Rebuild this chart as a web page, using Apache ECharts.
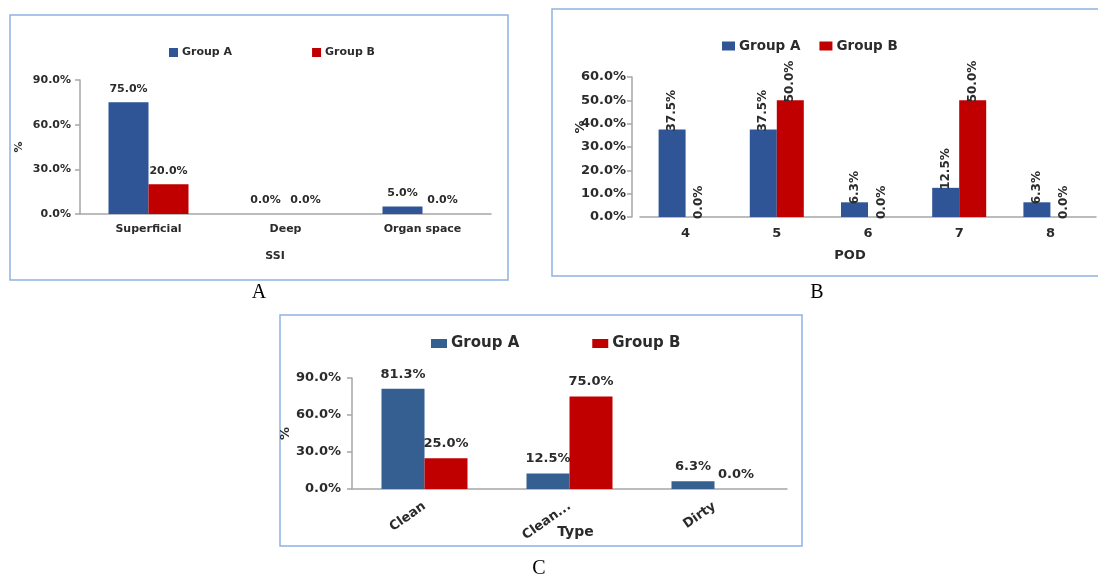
<!DOCTYPE html>
<html>
<head>
<meta charset="utf-8">
<script src="https://cdn.jsdelivr.net/npm/echarts@6/dist/echarts.min.js"></script>
<style>
html,body{margin:0;padding:0;background:#fff;}
#c{width:1098px;height:578px;}
</style>
</head>
<body>
<div id="c"></div>
<script>
// Panel A: SSI
var catsA = ['Superficial', 'Deep', 'Organ space'];
var groupA_A = [75.0, 0.0, 5.0];
var groupB_A = [20.0, 0.0, 0.0];
var ticksA = [0, 30, 60, 90];
// Panel B: POD
var catsB = ['4', '5', '6', '7', '8'];
var groupA_B = [37.5, 37.5, 6.3, 12.5, 6.3];
var groupB_B = [0.0, 50.0, 0.0, 50.0, 0.0];
var ticksB = [0, 10, 20, 30, 40, 50, 60];
// Panel C: Type
var catsC = ['Clean', 'Clean...', 'Dirty'];
var groupA_C = [81.3, 12.5, 6.3];
var groupB_C = [25.0, 75.0, 0.0];
var ticksC = [0, 30, 60, 90];
var seriesNames = ['Group A', 'Group B'];

var FONT = 'DejaVu Sans';
var TXT = '#2b2b2b';
var AXC = '#a6a6a6';
var BLUE_AB = '#2f5597';
var BLUE_C = '#365f91';
var RED = '#c00000';
var BORDER = '#8db3e2';

function pct(v){ return Number(v).toFixed(1) + '%'; }

function yAxisCfg(gi, ticks, fs, margin, extra){
  var o = {
    type:'value', gridIndex:gi, min:ticks[0], max:ticks[ticks.length-1],
    interval:ticks[1]-ticks[0],
    axisLine:{show:true, lineStyle:{color:AXC, width:1.5}},
    axisTick:{show:true, length:5, lineStyle:{color:AXC, width:1.5}},
    splitLine:{show:false},
    axisLabel:{formatter:pct, color:TXT, fontFamily:FONT, fontWeight:'bold', fontSize:fs, margin:margin},
    name:'%', nameLocation:'middle', nameMoveOverlap:false,
    nameTextStyle:{color:TXT, fontFamily:FONT, fontWeight:'bold', fontSize:fs}
  };
  for (var k in extra) o[k] = extra[k];
  return o;
}
function xAxisCfg(gi, cats, fs, margin, extra){
  var o = {
    type:'category', gridIndex:gi, data:cats,
    axisLine:{show:true, lineStyle:{color:AXC, width:1.5}},
    axisTick:{show:false},
    axisLabel:{color:TXT, fontFamily:FONT, fontWeight:'bold', fontSize:fs, margin:margin, interval:0},
    nameLocation:'middle', nameMoveOverlap:false,
    nameTextStyle:{color:TXT, fontFamily:FONT, fontWeight:'bold', fontSize:fs}
  };
  for (var k in extra) o[k] = extra[k];
  return o;
}
function barSeries(name, idx, data, color, bw, label){
  return {
    type:'bar', name:name, xAxisIndex:idx, yAxisIndex:idx, data:data,
    barWidth:bw, barGap:'0%',
    itemStyle:{color:color},
    label:label,
    emphasis:{disabled:true}
  };
}
function topLabel(fs, dist){
  return {show:true, position:'top', distance:dist, formatter:function(p){return pct(p.value);},
          color:TXT, fontFamily:FONT, fontWeight:'bold', fontSize:fs};
}
var rotLabel = {show:true, position:'top', rotate:90, align:'left', verticalAlign:'middle', distance:-2,
  formatter:function(p){return pct(p.value);}, color:TXT, fontFamily:FONT, fontWeight:'bold', fontSize:12};

function legendCfg(left, top, fs, iw, ih, gap, blue){
  return {
    left:left, top:top, itemWidth:iw, itemHeight:ih, itemGap:gap, icon:'rect',
    selectedMode:false,
    textStyle:{color:TXT, fontFamily:FONT, fontWeight:'bold', fontSize:fs, padding:[0,0,0,-1]},
    data:[{name:seriesNames[0], itemStyle:{color:blue}}, {name:seriesNames[1], itemStyle:{color:RED}}]
  };
}

var option = {
  animation:false,
  backgroundColor:'#fff',
  graphic:[
    {type:'rect', shape:{x:10, y:15, width:498, height:265}, style:{fill:'none', stroke:BORDER, lineWidth:1.5}},
    {type:'rect', shape:{x:552, y:9, width:560, height:267}, style:{fill:'none', stroke:BORDER, lineWidth:1.5}},
    {type:'rect', shape:{x:280, y:315, width:522, height:231}, style:{fill:'none', stroke:BORDER, lineWidth:1.5}},
    {type:'text', x:259, y:293, style:{text:'A', font:'20px "Liberation Serif"', fill:'#000', align:'center', verticalAlign:'middle'}},
    {type:'text', x:817, y:293, style:{text:'B', font:'20px "Liberation Serif"', fill:'#000', align:'center', verticalAlign:'middle'}},
    {type:'text', x:539, y:569, style:{text:'C', font:'20px "Liberation Serif"', fill:'#000', align:'center', verticalAlign:'middle'}}
  ],
  legend:[
    legendCfg(164, 42, 11, 9, 9, 80, BLUE_AB),
    legendCfg(717, 34, 13.5, 13, 9, 19, BLUE_AB),
    legendCfg(426, 331, 15, 16, 9, 73, BLUE_C)
  ],
  grid:[
    {left:80, top:80, width:411, height:134},
    {left:640, top:77, width:456, height:140},
    {left:352, top:378, width:435, height:111}
  ],
  xAxis:[
    xAxisCfg(0, catsA, 11, 10, {name:'SSI', nameGap:37, nameTextStyle:{color:TXT, fontFamily:FONT, fontWeight:'bold', fontSize:11, padding:[0,21,0,0]}}),
    xAxisCfg(1, catsB, 13, 10, {name:'POD', nameGap:32, nameTextStyle:{color:TXT, fontFamily:FONT, fontWeight:'bold', fontSize:13, padding:[0,36,0,0]}}),
    xAxisCfg(2, catsC, 13, 16, {name:'Type', nameGap:36, nameTextStyle:{color:TXT, fontFamily:FONT, fontWeight:'bold', fontSize:14, padding:[0,0,0,12]}})
  ],
  yAxis:[
    yAxisCfg(0, ticksA, 11, 9, {nameGap:55}),
    yAxisCfg(1, ticksB, 13, 6, {offset:8, nameGap:45, nameTextStyle:{color:TXT, fontFamily:FONT, fontWeight:'bold', fontSize:13, padding:[0,0,0,40]}}),
    yAxisCfg(2, ticksC, 13, 11, {nameGap:60})
  ],
  series:[
    barSeries(seriesNames[0], 0, groupA_A, BLUE_AB, 40, topLabel(11, 8)),
    barSeries(seriesNames[1], 0, groupB_A, RED, 40, topLabel(11, 8)),
    barSeries(seriesNames[0], 1, groupA_B, BLUE_AB, 27, rotLabel),
    barSeries(seriesNames[1], 1, groupB_B, RED, 27, rotLabel),
    barSeries(seriesNames[0], 2, groupA_C, BLUE_C, 43, topLabel(13, 8)),
    barSeries(seriesNames[1], 2, groupB_C, RED, 43, topLabel(13, 8))
  ]
};
option.xAxis[2].axisLabel.rotate = 35;

var chart = echarts.init(document.getElementById('c'), null, {renderer:'canvas'});
chart.setOption(option);
</script>
</body>
</html>
